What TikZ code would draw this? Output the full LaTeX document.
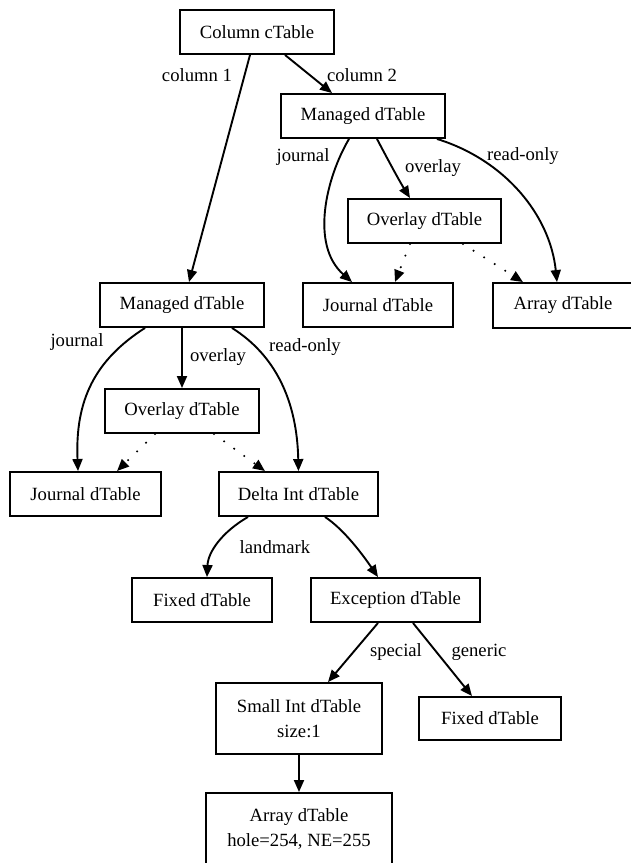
\documentclass[tikz,border=0pt]{standalone}
\usepackage{fontspec}
\setmainfont{Liberation Serif}
\usetikzlibrary{arrows.meta}
\begin{document}
\begin{tikzpicture}[x=1pt,y=-1pt,
  font=\fontsize{18.67}{25}\selectfont,
  box/.style={draw, line width=1.9pt, inner sep=0pt, align=center},
  lbl/.style={inner sep=0pt},
  edge/.style={line width=1.9pt, -{Triangle[length=12pt,width=10pt]}},
  dotedge/.style={line width=2.3pt, line cap=round, dash pattern=on 0pt off 12.5pt, -{Triangle[length=12pt,width=10pt]}}]
\useasboundingbox (0,0) rectangle (631,863);
\fill[white] (0,0) rectangle (631,863);
\clip (0,0) rectangle (631,863);
% nodes
\node[box, minimum width=154pt, minimum height=44pt] (col) at (257,32) {Column cTable};
\node[box, minimum width=164pt, minimum height=44pt] (mR) at (363,116) {Managed dTable};
\node[box, minimum width=153pt, minimum height=44pt] (ovR) at (424.5,221) {Overlay dTable};
\node[box, minimum width=150pt, minimum height=44pt] (jR) at (378,305) {Journal dTable};
\node[box, minimum width=140pt, minimum height=45pt] (aR) at (563,305.5) {Array dTable};
\node[box, minimum width=164pt, minimum height=44pt] (mL) at (182,305) {Managed dTable};
\node[box, minimum width=154pt, minimum height=44pt] (ovL) at (182,411) {Overlay dTable};
\node[box, minimum width=151pt, minimum height=44pt] (jL) at (85.5,494) {Journal dTable};
\node[box, minimum width=159pt, minimum height=44pt] (delta) at (298.5,494) {Delta Int dTable};
\node[box, minimum width=140pt, minimum height=44pt] (fixL) at (202,600) {Fixed dTable};
\node[box, minimum width=169pt, minimum height=44pt] (exc) at (395.5,600) {Exception dTable};
\node[box, minimum width=166pt, minimum height=71pt] (small) at (299,718.5) {Small Int dTable\\size:1};
\node[box, minimum width=142pt, minimum height=43pt] (fixR) at (490,718.5) {Fixed dTable};
\node[box, minimum width=186pt, minimum height=71pt] (arrB) at (299,828.5) {Array dTable\\hole=254, NE=255};
% edges
\draw[edge] ([xshift=-7pt]col.south) -- ([xshift=7pt]mL.north);
\draw[edge] ([xshift=28pt]col.south) -- ([xshift=-31pt]mR.north);
\draw[edge] ([xshift=-14pt]mR.south) .. controls (326,178) and (310,245) .. ([xshift=-26pt]jR.north);
\draw[edge] ([xshift=14pt]mR.south) .. controls (388,160) and (400,182) .. ([xshift=-14.5pt]ovR.north);
\draw[edge] ([xshift=74pt]mR.south) .. controls (505,160) and (550,215) .. ([xshift=-6pt]aR.north);
\draw[dotedge] ([xshift=-14.5pt]ovR.south) -- ([xshift=17pt]jR.north);
\draw[dotedge] ([xshift=38.5pt]ovR.south) -- ([xshift=-40pt]aR.north);
\draw[edge] ([xshift=-37pt]mL.south) .. controls (95,360) and (75,400) .. ([xshift=-7.5pt]jL.north);
\draw[edge] (mL.south) -- (ovL.north);
\draw[edge] ([xshift=50pt]mL.south) .. controls (275,355) and (297,400) .. (delta.north);
\draw[dotedge] ([xshift=-27pt]ovL.south) -- ([xshift=31.5pt]jL.north);
\draw[dotedge] ([xshift=32pt]ovL.south) -- ([xshift=-33.5pt]delta.north);
\draw[edge] ([xshift=-50.5pt]delta.south) .. controls (222,532) and (208,552) .. ([xshift=5pt]fixL.north);
\draw[edge] ([xshift=26.5pt]delta.south) .. controls (345,530) and (365,558) .. ([xshift=-17.5pt]exc.north);
\draw[edge] ([xshift=-17.5pt]exc.south) -- ([xshift=29pt]small.north);
\draw[edge] ([xshift=17.5pt]exc.south) -- ([xshift=-18pt]fixR.north);
\draw[edge] (small.south) -- (arrB.north);
% labels
\node[lbl] (l1) at (197,75) {column 1};
\node[lbl] (l2) at (362,75) {column 2};
\node[lbl] (l3) at (303,157) {journal};
\node[lbl] (l4) at (433,168) {overlay};
\node[lbl] (l5) at (523,156) {read-only};
\node[lbl] (l6) at (77,342) {journal};
\node[lbl] (l7) at (218,357) {overlay};
\node[lbl] (l8) at (305,347) {read-only};
\node[lbl] (l9) at (275,547) {landmark};
\node[lbl] (l10) at (396,652) {special};
\node[lbl] (l11) at (479,652) {generic};
\end{tikzpicture}
\end{document}
